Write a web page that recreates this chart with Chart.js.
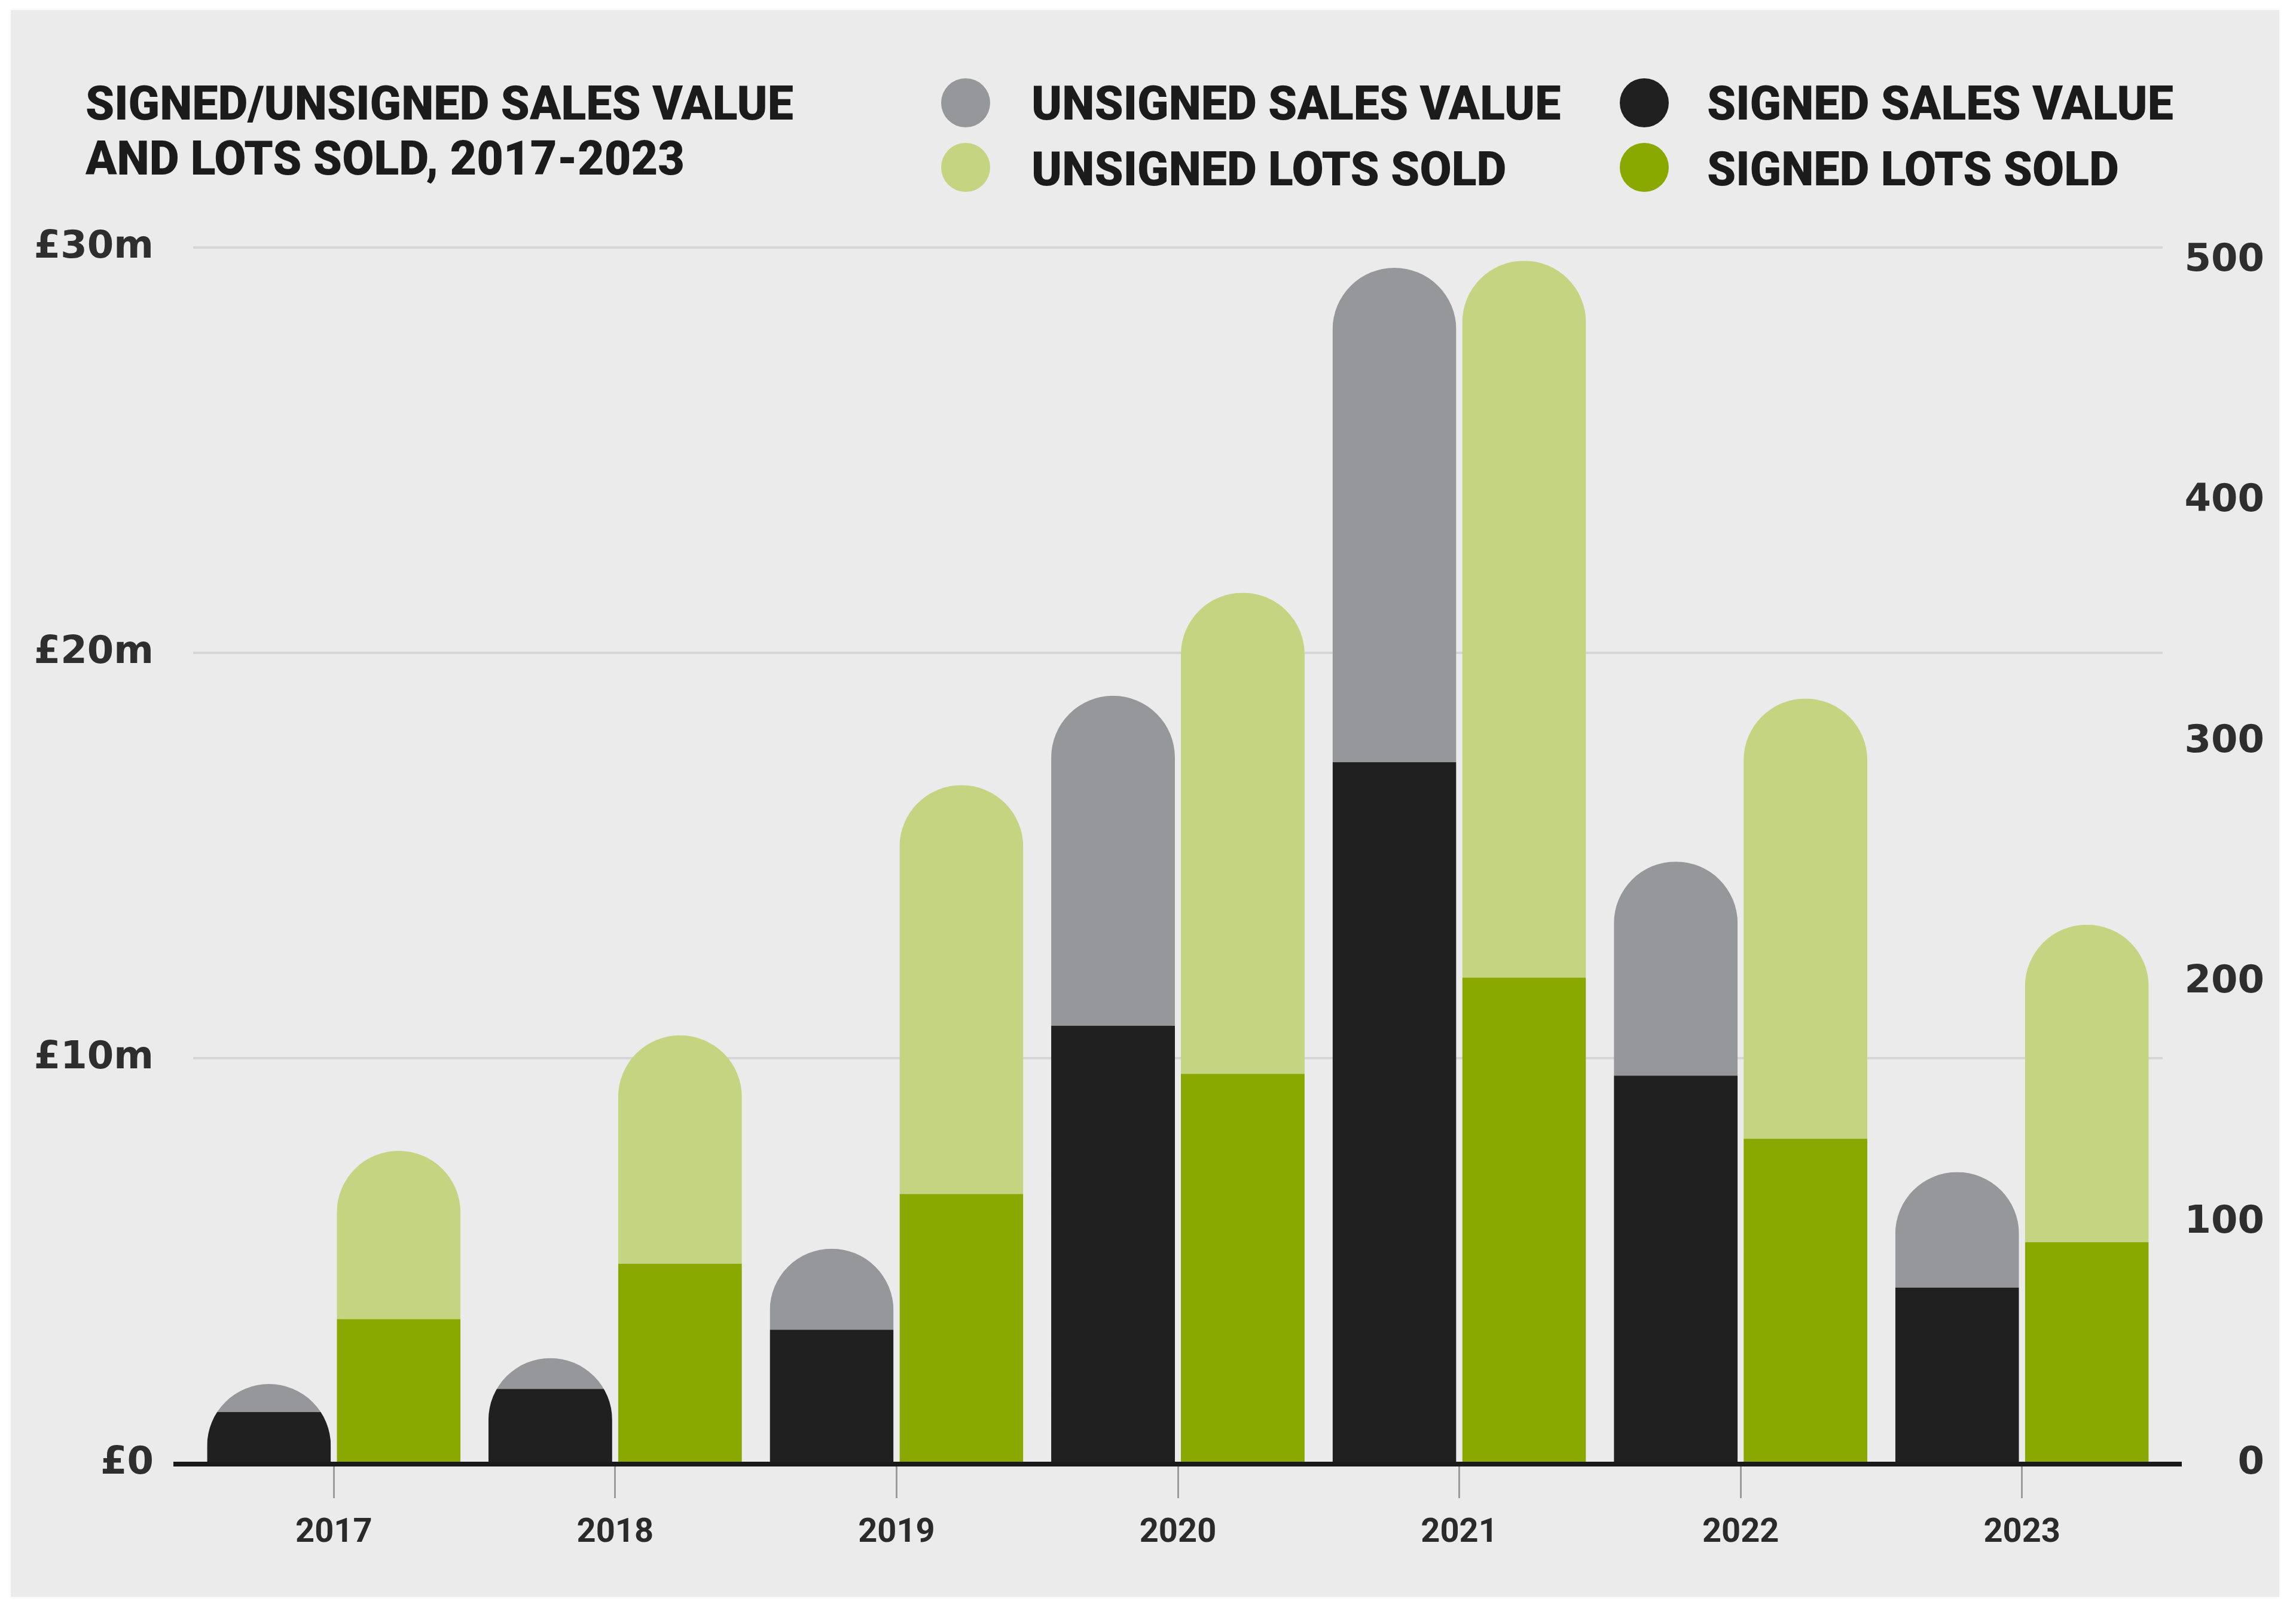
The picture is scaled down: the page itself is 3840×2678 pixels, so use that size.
<!DOCTYPE html>
<html>
<head>
<meta charset="utf-8">
<script src="https://cdn.jsdelivr.net/npm/chart.js@4.4.1/dist/chart.umd.min.js"></script>
<style>
  html, body { margin:0; padding:0; background:#ffffff; width:3840px; height:2678px; overflow:hidden; }
  #panel { position:absolute; left:18px; top:17px; width:3794px; height:2654px; background:#ebebeb; box-shadow:0 0 6px rgba(0,0,0,0.06); }
  #wrap { position:absolute; left:0; top:0; width:3840px; height:2678px; }
  .t { position:absolute; font-family:Roboto, 'Noto Sans', 'DejaVu Sans', sans-serif; font-weight:900; font-size:80px; line-height:80px; color:#1b1b1b; white-space:nowrap; transform-origin:0 50%; }
  .dot { position:absolute; width:82px; height:82px; border-radius:50%; }
</style>
</head>
<body>
<div id="panel"></div>
<div id="wrap"><canvas id="c"></canvas></div>
<div id="overlay"></div>
<script>
// ---------- data ----------
const years = ['2017', '2018', '2019', '2020', '2021', '2022', '2023'];
const signedValue   = [1.27, 1.84, 3.3, 10.8, 17.3, 9.57, 4.34];   // £m
const unsignedValue = [0.69, 0.76, 2.0, 8.14, 12.2, 5.28, 2.85];   // £m
const signedLots    = [60, 83, 112, 162, 202, 135, 92];
const unsignedLots  = [70, 95, 170, 200, 298, 183, 132];
const valueTicks = [0, 10, 20, 30];
const lotsTicks  = [0, 100, 200, 300, 400, 500];
const titleLines = ['SIGNED/UNSIGNED SALES VALUE', 'AND LOTS SOLD, 2017-2023'];
const seriesLabels = {
  unsignedValue: 'UNSIGNED SALES VALUE',
  signedValue: 'SIGNED SALES VALUE',
  unsignedLots: 'UNSIGNED LOTS SOLD',
  signedLots: 'SIGNED LOTS SOLD'
};
const colors = {
  signedValue: '#212021',
  unsignedValue: '#96979b',
  signedLots: '#8aa900',
  unsignedLots: '#c4d480'
};

// ---------- title & legend (HTML text) ----------
const overlay = document.getElementById('overlay');
function addText(txt, left, top) {
  const d = document.createElement('div');
  d.className = 't';
  d.textContent = txt;
  d.style.left = left + 'px';
  d.style.top = top + 'px';
  overlay.appendChild(d);
  return d;
}
function addDot(color, cx, cy) {
  const d = document.createElement('div');
  d.className = 'dot';
  d.style.background = color;
  d.style.left = (cx - 41) + 'px';
  d.style.top = (cy - 41) + 'px';
  overlay.appendChild(d);
}
const t1 = addText(titleLines[0], 143, 133);
const t2 = addText(titleLines[1], 143, 225);
const legendItems = [
  ['unsignedValue', 1615, 172, 1725, 133],
  ['signedValue',   2750, 172, 2855, 133],
  ['unsignedLots',  1615, 280, 1725, 243],
  ['signedLots',    2750, 280, 2855, 243]
];
const texts = [t1, t2];
legendItems.forEach(([k, cx, cy, lx, ty]) => {
  addDot(colors[k], cx, cy);
  texts.push(addText(seriesLabels[k], lx, ty));
});
const natural = t1.getBoundingClientRect().width;
const sx = 1184 / natural;
texts.forEach(el => { el.style.transform = 'scaleX(' + sx + ')'; });

// ---------- plugins ----------
const roundTops = {
  id: 'roundTops',
  beforeDatasetsDraw(chart) {
    const ctx = chart.ctx;
    ctx.save();
    ctx.beginPath();
    [[0, 1], [2, 3]].forEach(([b, t]) => {
      const metaB = chart.getDatasetMeta(b);
      const metaT = chart.getDatasetMeta(t);
      metaT.data.forEach((el, i) => {
        const p = el.getProps(['x', 'y', 'width'], true);
        const base = metaB.data[i].getProps(['base'], true).base + 4;
        const r = p.width / 2;
        const left = p.x - r, right = p.x + r;
        ctx.moveTo(left, base);
        ctx.lineTo(left, p.y + r);
        ctx.arc(p.x, p.y + r, r, Math.PI, 0, false);
        ctx.lineTo(right, base);
        ctx.closePath();
      });
    });
    ctx.clip();
  },
  afterDatasetsDraw(chart) {
    chart.ctx.restore();
  }
};
const baseline = {
  id: 'baseline',
  afterDraw(chart) {
    const ctx = chart.ctx;
    const y0 = chart.scales.y.getPixelForValue(0);
    const a = chart.chartArea;
    ctx.save();
    ctx.strokeStyle = '#1c1b1c';
    ctx.lineWidth = 8;
    ctx.beginPath();
    ctx.moveTo(a.left - 33, y0 + 1);
    ctx.lineTo(a.right + 32, y0 + 1);
    ctx.stroke();
    ctx.restore();
  }
};

// ---------- chart ----------
const ctx = document.getElementById('c').getContext('2d');
new Chart(ctx, {
  type: 'bar',
  data: {
    labels: years,
    datasets: [
      { label: seriesLabels.signedValue, data: signedValue, backgroundColor: colors.signedValue, stack: 'value', yAxisID: 'y' },
      { label: seriesLabels.unsignedValue, data: unsignedValue, backgroundColor: colors.unsignedValue, stack: 'value', yAxisID: 'y' },
      { label: seriesLabels.signedLots, data: signedLots, backgroundColor: colors.signedLots, stack: 'lots', yAxisID: 'y1' },
      { label: seriesLabels.unsignedLots, data: unsignedLots, backgroundColor: colors.unsignedLots, stack: 'lots', yAxisID: 'y1' }
    ]
  },
  options: {
    responsive: true,
    maintainAspectRatio: false,
    devicePixelRatio: 1,
    animation: false,
    datasets: { bar: { categoryPercentage: 0.922, barPercentage: 0.954, borderWidth: 0, borderRadius: 0 } },
    layout: { padding: { top: 414, left: 0, right: 53, bottom: 0 } },
    plugins: { legend: { display: false }, title: { display: false }, tooltip: { enabled: false } },
    scales: {
      x: {
        stacked: true,
        grid: { offset: false, drawOnChartArea: false, drawTicks: true, tickLength: 58, color: '#9b9b9b', lineWidth: 3 },
        border: { display: false },
        ticks: { padding: 25, color: '#2a2a2a', font: { family: 'Roboto', size: 56, weight: 'bold' } },
        afterFit(s) { s.height = 230; }
      },
      y: {
        position: 'left',
        stacked: true,
        min: 0,
        max: 30,
        afterBuildTicks(a) { a.ticks = valueTicks.map(v => ({ value: v })); },
        grid: { color: c => (c.tick && c.tick.value === 0) ? 'rgba(0,0,0,0)' : '#d6d6d6', lineWidth: 4, drawTicks: false },
        border: { display: false },
        ticks: {
          padding: 66, color: '#2e2e2e',
          font: { family: 'DejaVu Sans', size: 64, weight: 'bold' },
          callback: v => v === 0 ? '£0' : '£' + v + 'm'
        },
        afterFit(s) { s.width = 323; }
      },
      y1: {
        position: 'right',
        stacked: true,
        min: 0,
        max: 505.5,
        afterBuildTicks(a) { a.ticks = lotsTicks.map(v => ({ value: v })); },
        grid: { display: false, drawOnChartArea: false },
        border: { display: false },
        ticks: { padding: 36, crossAlign: 'far', color: '#2e2e2e', font: { family: 'DejaVu Sans', size: 64, weight: 'bold' } },
        afterFit(s) { s.width = 170; }
      }
    }
  },
  plugins: [roundTops, baseline]
});
</script>
</body>
</html>
